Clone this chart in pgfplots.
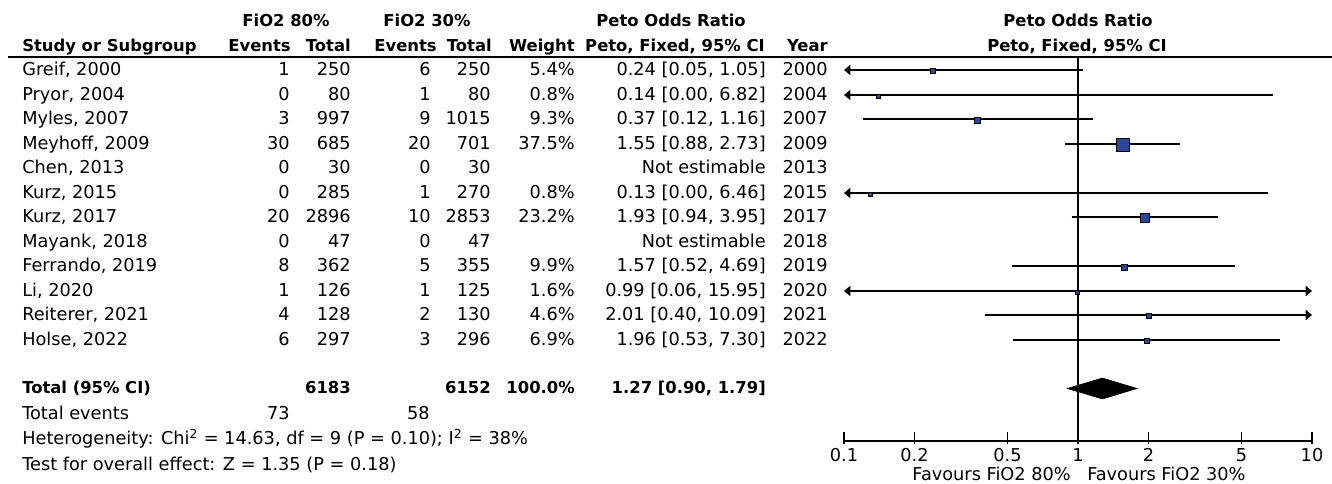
\documentclass[border=0pt]{standalone}
\usepackage{fontspec}
\setmainfont{DejaVu Sans}
\usepackage{pgfplots}
\pgfplotsset{compat=1.18}
\usetikzlibrary{arrows.meta}
\definecolor{sq}{RGB}{43,71,157}
\newcommand\nf{\fontsize{13.3pt}{15pt}\selectfont}
\newcommand\bh{\fontsize{12.3pt}{15pt}\selectfont\bfseries}
\newcommand\row[9]{%
  \node[anchor=base west] at (22,#1+6) {#2};
  \node[anchor=base east] at (290,#1+6) {#3};
  \node[anchor=base east] at (351,#1+6) {#4};
  \node[anchor=base east] at (431,#1+6) {#5};
  \node[anchor=base east] at (491,#1+6) {#6};
  \node[anchor=base east] at (575,#1+6) {#7};
  \node[anchor=base east] at (766,#1+6) {#8};
  \node[anchor=base east] at (828,#1+6) {#9};
}
\pgfplotstableread{
or   y      s
0.24 370    5
0.14 345    4
0.37 321    5.7
1.55 296    12.7
0.13 247    4
1.93 223    9
1.57 174    6
0.99 149    4
2.01 125    5
1.96 100    5
}\squares
\begin{document}
\begin{tikzpicture}
\begin{scope}[x=0.75pt, y=-0.75pt, every node/.style={inner sep=0pt, font=\nf}]
\useasboundingbox (0,0) rectangle (1332,484);
% header
\node[anchor=base, font=\bh] at (286,26.5) {FiO2 80\%};
\node[anchor=base, font=\bh] at (427,26.5) {FiO2 30\%};
\node[anchor=base, font=\bh] at (671,26.5) {Peto Odds Ratio};
\node[anchor=base, font=\bh] at (1078,26.5) {Peto Odds Ratio};
\node[anchor=base west, font=\bh] at (22,51.5) {Study or Subgroup};
\node[anchor=base east, font=\bh] at (291,51.5) {Events};
\node[anchor=base east, font=\bh] at (351,51.5) {Total};
\node[anchor=base east, font=\bh] at (437,51.5) {Events};
\node[anchor=base east, font=\bh] at (492,51.5) {Total};
\node[anchor=base east, font=\bh] at (575,51.5) {Weight};
\node[anchor=base east, font=\bh] at (765,51.5) {Peto, Fixed, 95\% CI};
\node[anchor=base east, font=\bh] at (828,51.5) {Year};
\node[anchor=base, font=\bh] at (1077,51.5) {Peto, Fixed, 95\% CI};
\draw[line width=1.2pt] (8,57) -- (1332,57);
% rows
\row{70}{Greif, 2000}{1}{250}{6}{250}{5.4\%}{0.24 [0.05, 1.05]}{2000}
\row{94.5}{Pryor, 2004}{0}{80}{1}{80}{0.8\%}{0.14 [0.00, 6.82]}{2004}
\row{119}{Myles, 2007}{3}{997}{9}{1015}{9.3\%}{0.37 [0.12, 1.16]}{2007}
\row{143.5}{Meyhoff, 2009}{30}{685}{20}{701}{37.5\%}{1.55 [0.88, 2.73]}{2009}
\row{168}{Chen, 2013}{0}{30}{0}{30}{}{Not estimable}{2013}
\row{192.5}{Kurz, 2015}{0}{285}{1}{270}{0.8\%}{0.13 [0.00, 6.46]}{2015}
\row{217}{Kurz, 2017}{20}{2896}{10}{2853}{23.2\%}{1.93 [0.94, 3.95]}{2017}
\row{241.5}{Mayank, 2018}{0}{47}{0}{47}{}{Not estimable}{2018}
\row{266}{Ferrando, 2019}{8}{362}{5}{355}{9.9\%}{1.57 [0.52, 4.69]}{2019}
\row{290.5}{Li, 2020}{1}{126}{1}{125}{1.6\%}{0.99 [0.06, 15.95]}{2020}
\row{315}{Reiterer, 2021}{4}{128}{2}{130}{4.6\%}{2.01 [0.40, 10.09]}{2021}
\row{339.5}{Holse, 2022}{6}{297}{3}{296}{6.9\%}{1.96 [0.53, 7.30]}{2022}
% totals
\node[anchor=base west, font=\bh] at (22,394) {Total (95\% CI)};
\node[anchor=base east, font=\bh] at (351,394) {6183};
\node[anchor=base east, font=\bh] at (491,394) {6152};
\node[anchor=base east, font=\bh] at (575,394) {100.0\%};
\node[anchor=base east, font=\bh] at (766,394) {1.27 [0.90, 1.79]};
\node[anchor=base west] at (22,420) {Total events};
\node[anchor=base east] at (290,420) {73};
\node[anchor=base east] at (430,420) {58};
\node[anchor=base west] at (22,445) {Heterogeneity: Chi\textsuperscript{2} = 14.63, df = 9 (P = 0.10); I\textsuperscript{2} = 38\%};
\node[anchor=base west] at (22,470) {Test for overall effect: Z = 1.35 (P = 0.18)};
\node[anchor=base east] at (1071,480) {Favours FiO2 80\%};
\node[anchor=base west] at (1087,480) {Favours FiO2 30\%};
\end{scope}
\begin{axis}[
  at={(633pt,-330.75pt)}, anchor=south west, scale only axis,
  width=351pt, height=288pt,
  xmode=log, xmin=0.1, xmax=10, ymin=0, ymax=384,
  axis x line=bottom, axis y line=none,
  x axis line style={-, line width=1pt},
  xtick={0.1,0.2,0.5,1,2,5,10}, xticklabels={0.1,0.2,0.5,1,2,5,10},
  minor xtick={}, tick align=center, major tick length=9pt,
  xtick style={black, line width=1pt, yshift=2.25pt},
  xticklabel style={font=\nf, anchor=base, yshift=-11pt, inner sep=0pt},
  /pgf/number format/assume math mode=true,
  clip=false,
]
\addplot[black, line width=1pt] coordinates {(1,0) (1,384)};
\addplot[black, line width=1pt, {Triangle[length=4.7pt,width=7.5pt]}-] coordinates {(0.1,371) (1.05,371)};
\addplot[black, line width=1pt, {Triangle[length=4.7pt,width=7.5pt]}-] coordinates {(0.1,346) (6.82,346)};
\addplot[black, line width=1pt] coordinates {(0.12,322) (1.16,322)};
\addplot[black, line width=1pt] coordinates {(0.88,297) (2.73,297)};
\addplot[black, line width=1pt, {Triangle[length=4.7pt,width=7.5pt]}-] coordinates {(0.1,248) (6.46,248)};
\addplot[black, line width=1pt] coordinates {(0.94,224) (3.95,224)};
\addplot[black, line width=1pt] coordinates {(0.52,175) (4.69,175)};
\addplot[black, line width=1pt, {Triangle[length=4.7pt,width=7.5pt]}-{Triangle[length=4.7pt,width=7.5pt]}] coordinates {(0.1,150) (10,150)};
\addplot[black, line width=1pt, -{Triangle[length=4.7pt,width=7.5pt]}] coordinates {(0.40,126) (10,126)};
\addplot[black, line width=1pt] coordinates {(0.53,101) (7.30,101)};
\addplot[scatter, only marks, mark=square*,
  scatter/use mapped color={draw=none, fill=sq},
  visualization depends on={0.375*\thisrow{s} \as \ms},
  scatter/@pre marker code/.append style={/tikz/mark size=\ms pt}]
  table[x=or, y=y] {\squares};
\addplot[fill=black, draw=black] coordinates {(0.90,52.5) (1.27,63) (1.79,52.5) (1.27,42)} -- cycle;
\end{axis}
\end{tikzpicture}
\end{document}
